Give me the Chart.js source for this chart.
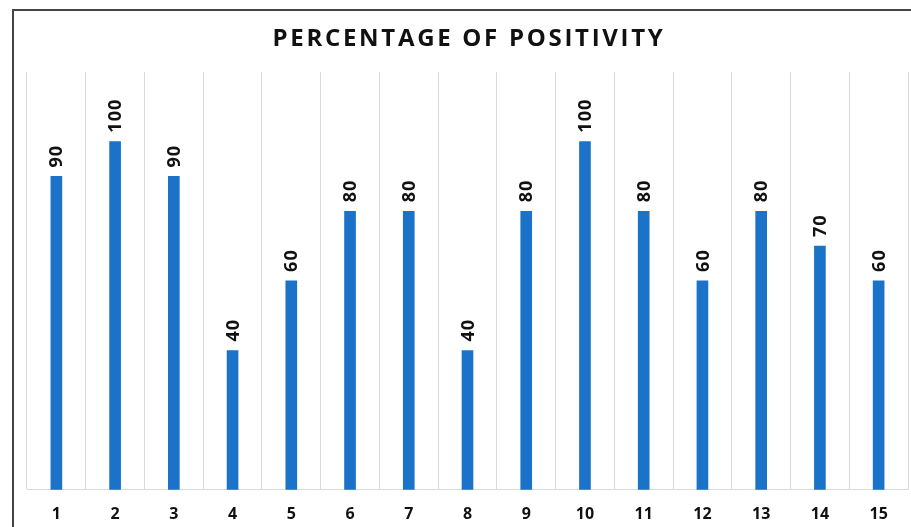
<!DOCTYPE html>
<html>
<head>
<meta charset="utf-8">
<script src="https://cdn.jsdelivr.net/npm/chart.js@4.4.1/dist/chart.umd.min.js"></script>
<style>
  html, body { margin: 0; padding: 0; background: #fff; overflow: hidden; }
  #frame {
    position: absolute; left: 12px; top: 9px; width: 960px; height: 600px;
    border-top: 2px solid #444; border-left: 2px solid #444;
  }
  #wrap { position: absolute; left: 0; top: 0; width: 911px; height: 527px; }
</style>
</head>
<body>
<div id="frame"></div>
<div id="wrap"><canvas id="posChart"></canvas></div>
<script>
// dados do gráfico
const categories = ['1', '2', '3', '4', '5', '6', '7', '8', '9', '10', '11', '12', '13', '14', '15'];
const positivity = [90, 100, 90, 40, 60, 80, 80, 40, 80, 100, 80, 60, 80, 70, 60];
const chartTitle = 'PERCENTAGE OF POSITIVITY';

const fontFamily = '"Open Sans", Lato, sans-serif';

// título com espaçamento entre letras
const titleText = {
    id: 'titleText',
    afterDraw(chart) {
        const ctx = chart.ctx;
        ctx.save();
        ctx.font = 'bold 24px ' + fontFamily;
        ctx.letterSpacing = '2.7px';
        ctx.fillStyle = '#111';
        ctx.textAlign = 'center';
        ctx.textBaseline = 'middle';
        ctx.fillText(chartTitle, 469, 39);
        ctx.restore();
    }
};

// rótulos rotacionados acima das barras
const barLabels = {
    id: 'barLabels',
    afterDatasetsDraw(chart) {
        const ctx = chart.ctx;
        const meta = chart.getDatasetMeta(0);
        ctx.save();
        ctx.font = 'bold 18px ' + fontFamily;
        ctx.letterSpacing = '1px';
        ctx.fillStyle = '#111';
        ctx.textAlign = 'left';
        ctx.textBaseline = 'middle';
        meta.data.forEach((bar, i) => {
            ctx.save();
            ctx.translate(bar.x + 1, bar.y - 9);
            ctx.rotate(-Math.PI / 2);
            ctx.fillText(String(positivity[i]), 0, 0);
            ctx.restore();
        });
        ctx.restore();
    }
};

const ctx = document.getElementById('posChart').getContext('2d');
window.posChart = new Chart(ctx, {
    type: 'bar',
    data: {
        labels: categories,
        datasets: [{
            label: 'Positivity',
            data: positivity,
            backgroundColor: '#1a73c9',
            barThickness: 11
        }]
    },
    options: {
        responsive: true,
        maintainAspectRatio: false,
        animation: false,
        layout: { padding: { left: 27, right: 3, top: 72, bottom: -12 } },
        plugins: {
            legend: { display: false },
            tooltip: { enabled: false },
            title: { display: false }
        },
        scales: {
            x: {
                grid: { color: '#d9d9d9', lineWidth: 1, drawTicks: false, offset: true },
                border: { color: '#d9d9d9' },
                ticks: {
                    color: '#111',
                    padding: 15,
                    maxRotation: 0,
                    font: { family: fontFamily, size: 16, weight: 'bold' }
                }
            },
            y: {
                display: false,
                min: 0,
                max: 120
            }
        }
    },
    plugins: [barLabels, titleText]
});
</script>
</body>
</html>
